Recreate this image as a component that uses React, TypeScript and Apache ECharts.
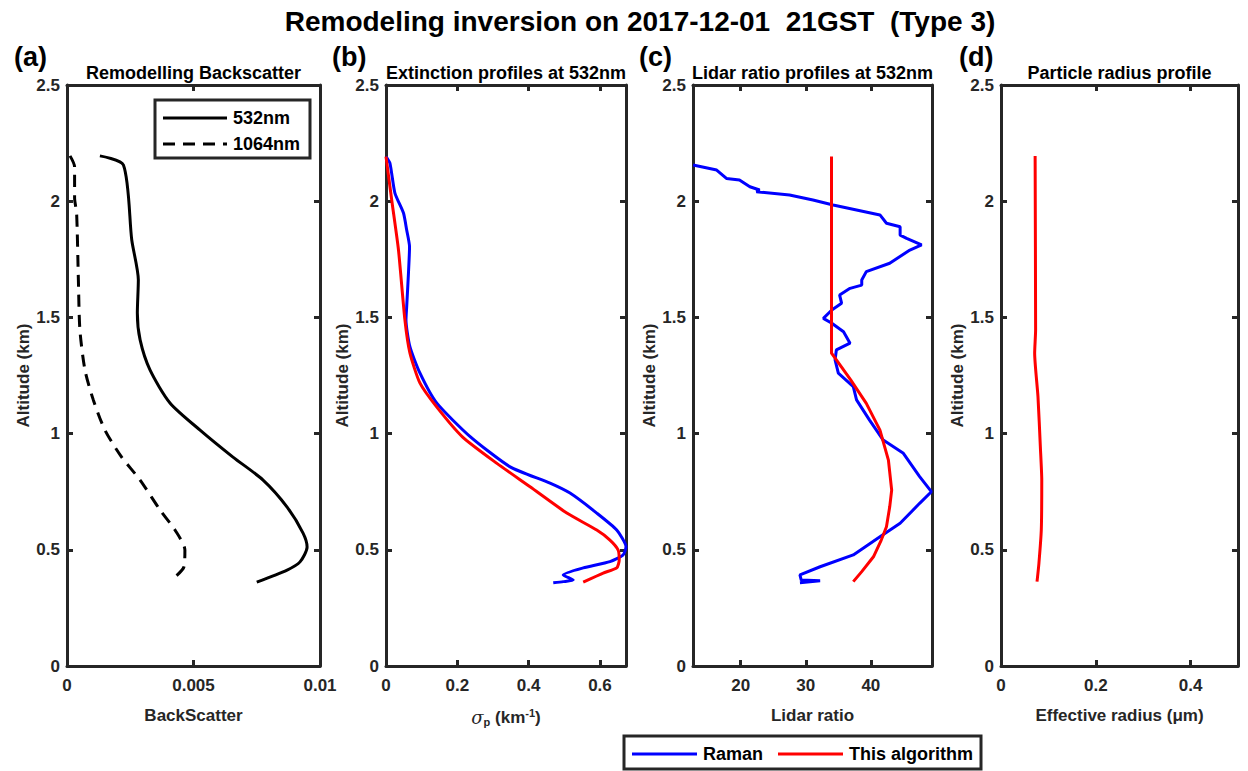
import React, { useEffect, useRef } from "react";
import * as echarts from "echarts";

// Panel (a): remodelled backscatter
const altA532 = [2.195, 2.156, 1.833, 1.661, 1.519, 1.403, 1.274, 1.132, 1.015, 0.899, 0.8, 0.684, 0.572, 0.512, 0.448, 0.413, 0.361];
const bs532 = [0.0013, 0.00223, 0.00256, 0.00282, 0.00278, 0.00289, 0.00328, 0.00407, 0.00526, 0.00656, 0.00775, 0.0087, 0.00933, 0.00949, 0.00921, 0.0087, 0.0075];
const altA1064 = [2.195, 2.148, 2.014, 1.949, 1.661, 1.446, 1.274, 1.145, 1.015, 0.899, 0.8, 0.671, 0.585, 0.499, 0.426, 0.383];
const bs1064 = [0.00012, 0.0003, 0.0003, 0.00038, 0.00045, 0.00051, 0.00071, 0.00104, 0.0015, 0.00216, 0.00289, 0.00368, 0.00427, 0.00466, 0.00462, 0.00427];

// Panel (b): extinction at 532nm
const altBRaman = [2.192, 2.164, 2.035, 1.949, 1.876, 1.804, 1.691, 1.546, 1.489, 1.374, 1.261, 1.132, 0.987, 0.857, 0.787, 0.744, 0.658, 0.585, 0.513, 0.478, 0.449, 0.422, 0.392, 0.37, 0.363, 0.358];
const extRaman = [0, 0.011, 0.025, 0.049, 0.058, 0.066, 0.063, 0.058, 0.056, 0.067, 0.095, 0.142, 0.236, 0.348, 0.46, 0.516, 0.591, 0.647, 0.673, 0.665, 0.628, 0.553, 0.497, 0.525, 0.497, 0.469];
const altBAlg = [2.192, 2.005, 1.79, 1.489, 1.347, 1.218, 1.115, 0.985, 0.873, 0.771, 0.658, 0.585, 0.542, 0.499, 0.456, 0.422, 0.4, 0.361];
const extAlg = [0, 0.016, 0.035, 0.053, 0.067, 0.095, 0.142, 0.215, 0.31, 0.404, 0.507, 0.591, 0.628, 0.651, 0.654, 0.647, 0.609, 0.553];

// Panel (c): lidar ratio at 532nm
const altCRaman = [2.156, 2.134, 2.098, 2.091, 2.062, 2.048, 2.041, 2.027, 2.005, 1.984, 1.941, 1.905, 1.89, 1.854, 1.84, 1.812, 1.79, 1.733, 1.697, 1.661, 1.639, 1.625, 1.596, 1.561, 1.532, 1.496, 1.475, 1.438, 1.389, 1.36, 1.317, 1.26, 1.202, 1.145, 1.058, 0.972, 0.915, 0.815, 0.75, 0.7, 0.614, 0.556, 0.478, 0.427, 0.392, 0.37, 0.367, 0.358];
const lrRaman = [12.67, 16.3, 17.8, 19.8, 21.4, 22.9, 22.4, 27.5, 31.1, 34.2, 41.4, 42.4, 44.5, 44.5, 45.5, 47.8, 46.0, 42.9, 39.3, 38.6, 38.6, 36.8, 35.2, 35.5, 34.0, 32.7, 34.0, 35.8, 36.8, 34.7, 34.5, 35.0, 37.3, 37.8, 39.8, 41.9, 45.0, 47.5, 49.3, 47.5, 44.5, 41.4, 37.3, 32.2, 29.1, 29.3, 32.2, 29.1];
const altCAlg = [2.192, 1.346, 1.317, 1.231, 1.13, 1.015, 0.886, 0.757, 0.685, 0.599, 0.542, 0.47, 0.406, 0.363];
const lrAlg = [33.95, 33.95, 34.7, 36.9, 39.3, 41.4, 42.7, 43.2, 42.9, 42.4, 41.6, 40.4, 38.6, 37.3];

// Panel (d): effective radius
const altD = [2.195, 1.446, 1.346, 1.159, 0.944, 0.8, 0.585, 0.442, 0.363];
const reff = [0.072, 0.073, 0.071, 0.078, 0.083, 0.086, 0.085, 0.08, 0.076];

const yTicks = { min: 0, max: 2.5, interval: 0.5 };

const AX = "#262626";
const FONT = "Liberation Sans, Arial, sans-serif";

const grids = [
  { left: 67, top: 85, width: 253, height: 581 },
  { left: 386, top: 85, width: 240, height: 581 },
  { left: 693, top: 85, width: 239, height: 581 },
  { left: 1001, top: 85, width: 237, height: 581 },
];

const xCfg: any[] = [
  { min: 0, max: 0.01, interval: 0.005, name: "BackScatter" },
  { min: 0, max: 0.673, interval: 0.2, name: "{i|σ}{sub|p}{b| (km}{sup|-1}{b|)}" },
  { min: 12.66, max: 49.4, splitNumber: 4, name: "Lidar ratio" },
  { min: 0, max: 0.5, interval: 0.2, name: "Effective radius (μm)" },
];

const zip = (xs: number[], ys: number[]) => xs.map((x, i) => [x, ys[i]]);

export default function App() {
  const ref = useRef<HTMLDivElement>(null);
  useEffect(() => {
    document.body.style.margin = "0";
    const chart = echarts.init(ref.current!, null, { renderer: "svg" });
    const xAxis: any[] = [];
    const yAxis: any[] = [];
    grids.forEach((g, i) => {
      const c = xCfg[i];
      const common = {
        gridIndex: i,
        type: "value",
        min: c.min,
        max: c.max,
        ...(c.interval !== undefined ? { interval: c.interval } : { splitNumber: c.splitNumber }),
        splitLine: { show: false },
        axisLine: { show: true, onZero: false, lineStyle: { color: AX, width: 3 } },
        axisTick: { show: true, inside: true, length: 6, lineStyle: { color: AX, width: 3 } },
      };
      xAxis.push({
        ...common,
        position: "bottom",
        name: c.name,
        nameLocation: "middle",
        nameGap: 41,
        nameTextStyle: {
          color: AX,
          fontSize: 17,
          fontWeight: "bold",
          fontFamily: FONT,
          rich: {
            i: { fontSize: 18, fontStyle: "italic", fontFamily: "DejaVu Serif", color: AX, fontWeight: "normal" },
            sub: { fontSize: 11, color: AX, fontWeight: "bold", verticalAlign: "bottom", padding: [9, 0, 0, 0], fontFamily: FONT },
            b: { fontSize: 17, fontWeight: "bold", color: AX, fontFamily: FONT },
            sup: { fontSize: 11, color: AX, fontWeight: "bold", verticalAlign: "top", padding: [0, 0, 9, 0], fontFamily: FONT },
          },
        },
        axisLabel: {
          show: true,
          margin: 11,
          color: AX,
          fontSize: 17,
          fontWeight: "bold",
          fontFamily: FONT,
          showMinLabel: i === 2 ? false : true,
          showMaxLabel: i === 0 ? true : false,
        },
      });
      xAxis.push({ ...common, position: "top", axisLabel: { show: false } });
      const yCommon = {
        gridIndex: i,
        type: "value",
        ...yTicks,
        splitLine: { show: false },
        axisLine: { show: true, onZero: false, lineStyle: { color: AX, width: 3 } },
        axisTick: { show: true, inside: true, length: 6, lineStyle: { color: AX, width: 3 } },
      };
      yAxis.push({
        ...yCommon,
        position: "left",
        name: "Altitude (km)",
        nameLocation: "middle",
        nameGap: 33,
        nameTextStyle: { color: AX, fontSize: 17, fontWeight: "bold", fontFamily: FONT },
        axisLabel: { show: true, margin: 7, color: AX, fontSize: 17, fontWeight: "bold", fontFamily: FONT },
      });
      yAxis.push({ ...yCommon, position: "right", axisLabel: { show: false } });
    });

    const line = (idx: number, data: number[][], color: string, dash?: any, smooth: number | false = 0.25) => ({
      type: "line",
      xAxisIndex: idx * 2,
      yAxisIndex: idx * 2,
      data,
      showSymbol: false,
      symbol: "none",
      smooth,
      lineStyle: { color, width: 3, type: dash || "solid" },
      z: 5,
    });

    const series = [
      line(0, zip(bs532, altA532), "#000000"),
      line(0, zip(bs1064, altA1064), "#000000", [12, 8]),
      line(1, zip(extRaman, altBRaman), "#0000ff", undefined, 0.2),
      line(1, zip(extAlg, altBAlg), "#ff0000", undefined, 0.2),
      line(2, zip(lrRaman, altCRaman), "#0000ff", undefined, false),
      line(2, zip(lrAlg, altCAlg), "#ff0000", undefined, false),
      line(3, zip(reff, altD), "#ff0000", undefined, 0.2),
    ];

    const subTitles = ["Remodelling Backscatter", "Extinction profiles at 532nm", "Lidar ratio profiles at 532nm", "Particle radius profile"];
    const letters = ["(a)", "(b)", "(c)", "(d)"];
    const letterX = [14, 332, 639, 959];

    const graphic: any[] = [
      {
        type: "text",
        x: 640,
        y: 21,
        style: { text: "Remodeling inversion on 2017-12-01  21GST  (Type 3)", fill: "#000", font: `bold 28px ${FONT}`, align: "center", verticalAlign: "middle" },
      },
    ];
    grids.forEach((g, i) => {
      graphic.push({
        type: "text",
        x: g.left + g.width / 2,
        y: 73,
        style: { text: subTitles[i], fill: "#000", font: `bold 18px ${FONT}`, align: "center", verticalAlign: "middle" },
      });
      graphic.push({
        type: "text",
        x: letterX[i],
        y: 57,
        style: { text: letters[i], fill: "#000", font: `bold 27px ${FONT}`, align: "left", verticalAlign: "middle" },
      });
    });
    // legend (a)
    graphic.push(
      { type: "rect", shape: { x: 155, y: 100, width: 155, height: 58 }, style: { fill: "#fff", stroke: AX, lineWidth: 3 }, z: 10 },
      { type: "line", shape: { x1: 163, y1: 118, x2: 227, y2: 118 }, style: { stroke: "#000", lineWidth: 3 }, z: 11 },
      { type: "text", x: 233, y: 118, style: { text: "532nm", fill: "#000", font: `bold 18px ${FONT}`, verticalAlign: "middle" }, z: 11 },
      { type: "line", shape: { x1: 163, y1: 144, x2: 227, y2: 144 }, style: { stroke: "#000", lineWidth: 3, lineDash: [12, 8] }, z: 11 },
      { type: "text", x: 233, y: 144, style: { text: "1064nm", fill: "#000", font: `bold 18px ${FONT}`, verticalAlign: "middle" }, z: 11 }
    );
    // bottom legend
    graphic.push(
      { type: "rect", shape: { x: 624, y: 736, width: 357, height: 33 }, style: { fill: "#fff", stroke: AX, lineWidth: 3 }, z: 10 },
      { type: "line", shape: { x1: 632, y1: 754, x2: 697, y2: 754 }, style: { stroke: "#0000ff", lineWidth: 3 }, z: 11 },
      { type: "text", x: 703, y: 754, style: { text: "Raman", fill: "#000", font: `bold 18px ${FONT}`, verticalAlign: "middle" }, z: 11 },
      { type: "line", shape: { x1: 778, y1: 754, x2: 843, y2: 754 }, style: { stroke: "#ff0000", lineWidth: 3 }, z: 11 },
      { type: "text", x: 849, y: 754, style: { text: "This algorithm", fill: "#000", font: `bold 18px ${FONT}`, verticalAlign: "middle" }, z: 11 }
    );

    chart.setOption({
      animation: false,
      backgroundColor: "#ffffff",
      grid: grids.map((g) => ({ ...g, containLabel: false })),
      xAxis,
      yAxis,
      series,
      graphic,
    });
    return () => chart.dispose();
  }, []);
  return <div ref={ref} style={{ width: 1248, height: 771 }} />;
}
